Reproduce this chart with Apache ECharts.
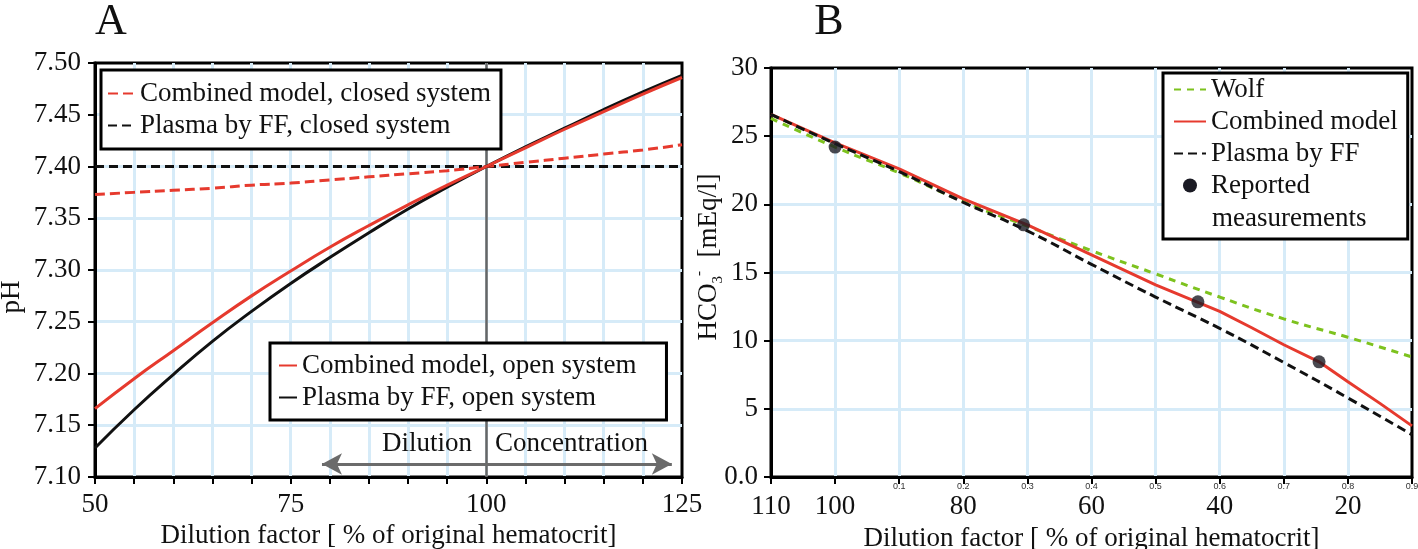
<!DOCTYPE html>
<html>
<head>
<meta charset="utf-8">
<script src="https://cdn.jsdelivr.net/npm/echarts@6/dist/echarts.min.js"></script>
<style>
html,body{margin:0;padding:0;background:#fff;}
#chart{width:1418px;height:549px;}
</style>
</head>
<body>
<div id="chart"></div>
<script>
// ---------- Panel A data ----------
const xA = [50, 55, 60, 65, 70, 75, 80, 85, 90, 95, 100, 105, 110, 115, 120, 125];
const pHCombinedClosed = [7.373, 7.375, 7.377, 7.379, 7.382, 7.384, 7.387, 7.390, 7.393, 7.396, 7.400, 7.404, 7.408, 7.412, 7.416, 7.421];
const pHPlasmaClosed   = [7.40, 7.40, 7.40, 7.40, 7.40, 7.40, 7.40, 7.40, 7.40, 7.40, 7.40, 7.40, 7.40, 7.40, 7.40, 7.40];
const pHCombinedOpen   = [7.166, 7.195, 7.222, 7.249, 7.275, 7.299, 7.322, 7.343, 7.363, 7.382, 7.400, 7.418, 7.436, 7.453, 7.470, 7.486];
const pHPlasmaOpen     = [7.128, 7.165, 7.199, 7.231, 7.260, 7.287, 7.312, 7.336, 7.359, 7.380, 7.400, 7.419, 7.437, 7.455, 7.472, 7.488];
const xATickVals = [50, 75, 100, 125];
const xATickLabels = ['50', '75', '100', '125'];
const arrowA = [[79, 7.1126], [123.7, 7.1126]];   // Dilution / Concentration arrow (data coords)
const dividerA = 100;

// ---------- Panel B data (x = dilution fraction) ----------
const dWolf = [-0.1, 0, 0.1, 0.2, 0.3, 0.4, 0.5, 0.6, 0.7, 0.8, 0.9];
const hco3Wolf = [26.3, 24.2, 22.3, 20.2, 18.4, 16.6, 14.9, 13.2, 11.6, 10.25, 8.8];
const dCombined = [-0.1, 0, 0.1, 0.2, 0.3, 0.4, 0.5, 0.6, 0.65, 0.7, 0.755, 0.8, 0.85, 0.9];
const hco3Combined = [26.6, 24.5, 22.6, 20.4, 18.5, 16.3, 14.1, 12.15, 10.95, 9.7, 8.45, 6.98, 5.4, 3.75];
const dPlasma = [-0.1, 0, 0.1, 0.2, 0.3, 0.4, 0.5, 0.6, 0.7, 0.8, 0.9];
const hco3Plasma = [26.6, 24.45, 22.4, 20.15, 18.05, 15.6, 13.2, 10.9, 8.4, 5.8, 3.1];
const dReported = [0.0, 0.294, 0.566, 0.755];
const hco3Reported = [24.2, 18.5, 12.85, 8.45];
const bigTickVals = [-0.1, 0, 0.2, 0.4, 0.6, 0.8];
const bigTickLabels = ['110', '100', '80', '60', '40', '20'];
const smallTickVals = [0.1, 0.2, 0.3, 0.4, 0.5, 0.6, 0.7, 0.8, 0.9];
const smallTickLabels = ['0.1', '0.2', '0.3', '0.4', '0.5', '0.6', '0.7', '0.8', '0.9'];

const FONT = '"Liberation Serif","Times New Roman",serif';
const FS = 27;
const RED = '#e63a2e', BLACK = '#111111', GREEN = '#7dc21e', GRIDC = '#d6ebf8';
const zip = (a, b) => a.map((v, i) => [v, b[i]]);

const chart = echarts.init(document.getElementById('chart'), null, {renderer: 'canvas'});

const axisCommon = {
  axisLine: {show: true, onZero: false, lineStyle: {color: '#000', width: 3}},
  axisTick: {show: true, inside: false, length: 7, lineStyle: {color: '#000', width: 2}},
  splitLine: {show: true, showMinLine: false, showMaxLine: false, lineStyle: {color: GRIDC, width: 3}},
  axisLabel: {color: '#111', fontSize: FS, fontFamily: FONT}
};
const legendCommon = {
  orient: 'vertical', itemHeight: 14, itemGap: 5, z: 20,
  borderColor: '#000', borderWidth: 3, backgroundColor: '#fff',
  itemStyle: {opacity: 0},
  textStyle: {fontSize: FS, fontFamily: FONT, color: '#111'}
};

const option = {
  animation: false,
  backgroundColor: '#fff',
  grid: [
    {left: 95, right: 736, top: 63, bottom: 72, outerBoundsMode: 'none', containLabel: false, show: true, borderColor: '#000', borderWidth: 3, backgroundColor: 'transparent'},
    {left: 771, right: 6, top: 68, bottom: 72, outerBoundsMode: 'none', containLabel: false, show: true, borderColor: '#000', borderWidth: 3, backgroundColor: 'transparent'}
  ],
  xAxis: [
    Object.assign({}, axisCommon, {
      type: 'value', gridIndex: 0, min: 50, max: 125, interval: 5,
      name: 'Dilution factor [ % of original hematocrit]', nameLocation: 'middle', nameGap: 45,
      nameTextStyle: {fontSize: FS, fontFamily: FONT, color: '#111'},
      axisLabel: Object.assign({}, axisCommon.axisLabel, {margin: 14, formatter: v => {
        const i = xATickVals.indexOf(Math.round(v)); return i >= 0 ? xATickLabels[i] : '';
      }})
    }),
    Object.assign({}, axisCommon, {
      type: 'value', gridIndex: 1, min: -0.1, max: 0.9, interval: 0.1,
      name: 'Dilution factor [ % of original hematocrit]', nameLocation: 'middle', nameGap: 45,
      nameTextStyle: {fontSize: FS, fontFamily: FONT, color: '#111'},
      axisLabel: {margin: 4, showMaxLabel: true, showMinLabel: true, formatter: v => {
        const r = Math.round(v * 10) / 10;
        const bi = bigTickVals.indexOf(r), si = smallTickVals.indexOf(r);
        return '{s|' + (si >= 0 ? smallTickLabels[si] : ' ') + '}\n{b|' + (bi >= 0 ? bigTickLabels[bi] : ' ') + '}';
      }, rich: {
        s: {fontSize: 9, fontFamily: '"Liberation Sans",Arial,sans-serif', color: '#333', lineHeight: 12},
        b: {fontSize: FS, fontFamily: FONT, color: '#111', lineHeight: 28}
      }}
    })
  ],
  yAxis: [
    Object.assign({}, axisCommon, {
      type: 'value', gridIndex: 0, min: 7.10, max: 7.50, interval: 0.05,
      axisLabel: Object.assign({}, axisCommon.axisLabel, {margin: 14, formatter: v => v.toFixed(2)})
    }),
    Object.assign({}, axisCommon, {
      type: 'value', gridIndex: 1, min: 0, max: 30, interval: 5,
      axisLabel: Object.assign({}, axisCommon.axisLabel, {margin: 13, formatter: v => v === 0 ? '0.0' : String(v)})
    })
  ],
  legend: [
    Object.assign({}, legendCommon, {
      data: ['Combined model, closed system', 'Plasma by FF, closed system'],
      left: 101, top: 70, itemWidth: 27, padding: [10, 10, 10, 6]
    }),
    Object.assign({}, legendCommon, {
      data: ['Combined model, open system', 'Plasma by FF, open system'],
      left: 270, top: 343, itemWidth: 18, padding: [9, 30, 9, 8]
    }),
    Object.assign({}, legendCommon, {
      data: ['Wolf', 'Combined model', 'Plasma by FF', {name: 'Reported', icon: 'circle', itemStyle: {opacity: 1}}],
      left: 1163, top: 73, itemWidth: 32, padding: [3, 10, 40, 10]
    })
  ],
  series: [
    {name: 'Plasma by FF, closed system', type: 'line', xAxisIndex: 0, yAxisIndex: 0, symbol: 'none',
     data: zip(xA, pHPlasmaClosed), lineStyle: {color: BLACK, width: 2.8, type: [9, 5]}, itemStyle: {color: BLACK}, z: 3,
     markLine: {silent: true, symbol: 'none', label: {show: false}, animation: false, z: 2,
       lineStyle: {color: '#666', width: 2.5, type: 'solid'}, data: [{xAxis: dividerA}]}},
    {name: 'Combined model, closed system', type: 'line', xAxisIndex: 0, yAxisIndex: 0, symbol: 'none',
     data: zip(xA, pHCombinedClosed), smooth: true, lineStyle: {color: RED, width: 3, type: [10, 5]}, itemStyle: {color: RED}, z: 4},
    {name: 'Plasma by FF, open system', type: 'line', xAxisIndex: 0, yAxisIndex: 0, symbol: 'none',
     data: zip(xA, pHPlasmaOpen), smooth: true, lineStyle: {color: BLACK, width: 3}, itemStyle: {color: BLACK}, z: 5},
    {name: 'Combined model, open system', type: 'line', xAxisIndex: 0, yAxisIndex: 0, symbol: 'none',
     data: zip(xA, pHCombinedOpen), smooth: true, lineStyle: {color: RED, width: 3}, itemStyle: {color: RED}, z: 6,
     markLine: {silent: true, symbol: ['arrow', 'arrow'], symbolSize: [16, 20], label: {show: false}, animation: false,
       lineStyle: {color: '#6b6b6b', width: 3, type: 'solid'},
       data: [[{coord: arrowA[0]}, {coord: arrowA[1]}]]}},

    {name: 'Wolf', type: 'line', xAxisIndex: 1, yAxisIndex: 1, symbol: 'none',
     data: zip(dWolf, hco3Wolf), smooth: true, lineStyle: {color: GREEN, width: 3, type: [7, 6]}, itemStyle: {color: GREEN}, z: 3},
    {name: 'Combined model', type: 'line', xAxisIndex: 1, yAxisIndex: 1, symbol: 'none',
     data: zip(dCombined, hco3Combined), lineStyle: {color: RED, width: 3}, itemStyle: {color: RED}, z: 4},
    {name: 'Plasma by FF', type: 'line', xAxisIndex: 1, yAxisIndex: 1, symbol: 'none',
     data: zip(dPlasma, hco3Plasma), smooth: true, lineStyle: {color: BLACK, width: 3, type: [9, 5]}, itemStyle: {color: BLACK}, z: 5},
    {name: 'Reported', type: 'scatter', xAxisIndex: 1, yAxisIndex: 1, symbol: 'circle', symbolSize: 13,
     data: zip(dReported, hco3Reported), itemStyle: {color: '#1b1b24'}, z: 6}
  ],
  graphic: [
    {type: 'text', x: 111, y: 22, style: {text: 'A', fontSize: 44, fontFamily: FONT, fill: '#111', align: 'center', verticalAlign: 'middle'}},
    {type: 'text', x: 829, y: 22, style: {text: 'B', fontSize: 44, fontFamily: FONT, fill: '#111', align: 'center', verticalAlign: 'middle'}},
    {type: 'text', x: 12, y: 297, rotation: Math.PI / 2, style: {text: 'pH', fontSize: FS, fontFamily: FONT, fill: '#111', align: 'center', verticalAlign: 'middle'}},
    {type: 'text', x: 472, y: 444, z: 50, style: {text: 'Dilution', fontSize: FS, fontFamily: FONT, fill: '#111', align: 'right', verticalAlign: 'middle'}},
    {type: 'text', x: 495, y: 444, z: 50, style: {text: 'Concentration', fontSize: FS, fontFamily: FONT, fill: '#111', align: 'left', verticalAlign: 'middle'}},
    {type: 'text', x: 1212, y: 219, z: 100, style: {text: 'measurements', fontSize: FS, fontFamily: FONT, fill: '#111', align: 'left', verticalAlign: 'middle'}},
    {type: 'text', x: 709, y: 257, rotation: Math.PI / 2, style: {
      text: '{m|HCO}{sub|3}{sup|-}{m|  [mEq/l]}', align: 'center', verticalAlign: 'middle',
      rich: {
        m: {fontSize: FS, fontFamily: FONT, fill: '#111', lineHeight: 34},
        sub: {fontSize: 15, fontFamily: FONT, fill: '#111', verticalAlign: 'bottom', lineHeight: 34},
        sup: {fontSize: 15, fontFamily: FONT, fill: '#111', verticalAlign: 'top', lineHeight: 34}
      }}}
  ]
};
chart.setOption(option);
</script>
</body>
</html>
